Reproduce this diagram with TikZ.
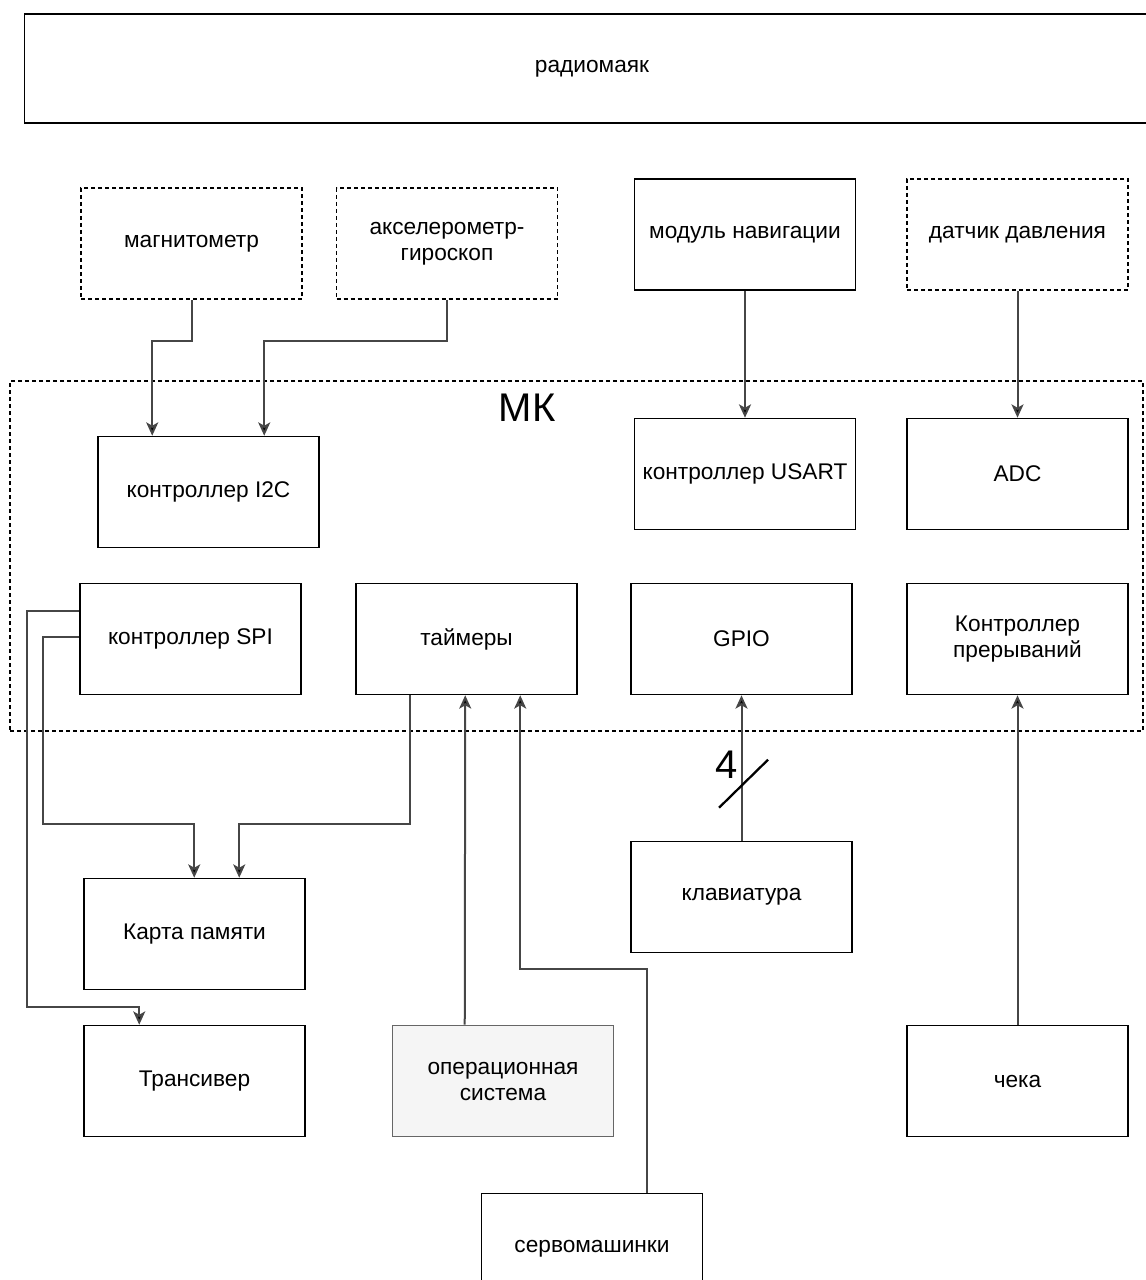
\documentclass[tikz,border=0pt]{standalone}
\usepackage{fontspec}
\setmainfont{Liberation Sans}
\usetikzlibrary{arrows.meta,calc}
\definecolor{linegray}{RGB}{70,70,70}
\definecolor{osfill}{RGB}{245,245,245}
\definecolor{osborder}{RGB}{102,102,102}
\begin{document}
\begin{tikzpicture}[x=0.75pt,y=-0.75pt,
  blk/.style={draw=black,line width=1.15pt,fill=white,minimum width=165.75pt,minimum height=83.25pt,
    inner sep=0pt,align=center,font=\fontsize{17}{19.5}\selectfont},
  optblk/.style={blk,dash pattern=on 3pt off 2.25pt},
  conn/.style={draw=linegray,line width=1.5pt,-{Stealth[length=10pt,width=9pt,inset=2.5pt,fill=black]}},
]
\useasboundingbox (0,0) rectangle (1145,1280);

% outer beacon
\node[blk,minimum width=851.25pt,minimum height=81.75pt] (beacon) at (592,68.5) {радиомаяк};

% external sensors
\node[optblk] (magn)  at (191.5,243.5) {магнитометр};
\node[optblk] (accel) at (447,243.5) {акселерометр-\\гироскоп};
\node[blk]    (nav)   at (745,234.5) {модуль навигации};
\node[optblk] (press) at (1017.5,234.5) {датчик давления};

% microcontroller boundary
\node[draw=black,line width=1.15pt,dash pattern=on 3pt off 2.25pt,minimum width=849.75pt,minimum height=262.5pt,inner sep=0pt] (mk) at (576.5,556) {};
\node[font=\fontsize{30}{34}\selectfont,inner sep=0pt] (mklabel) at (527,408) {МК};

% peripherals inside the MCU
\node[blk] (i2c)   at (208.5,492) {контроллер I2C};
\node[blk] (usart) at (745,474) {контроллер USART};
\node[blk] (adc)   at (1017.5,474) {ADC};
\node[blk] (spi)   at (190.5,639) {контроллер SPI};
\node[blk] (tim)   at (466.5,639) {таймеры};
\node[blk] (gpio)  at (741.5,639) {GPIO};
\node[blk] (irq)   at (1017.5,639) {Контроллер\\прерываний};

% external devices below
\node[blk] (card)  at (194.5,934) {Карта памяти};
\node[blk] (kbd)   at (741.5,897) {клавиатура};
\node[blk] (trx)   at (194.5,1081) {Трансивер};
\node[blk,fill=osfill,draw=osborder] (os) at (503,1081) {операционная\\система};
\node[blk] (pin)   at (1017.5,1081) {чека};
\node[blk] (servo) at (592,1249) {сервомашинки};

% sensor links
\draw[conn] (magn.south) -- ++(0,41) -| ($(i2c.north west)+(55,0)$);
\draw[conn] (accel.south) -- ++(0,41) -| ($(i2c.north west)+(167,0)$);
\draw[conn] (nav.south) -- (usart.north);
\draw[conn] (press.south) -- (adc.north);

% SPI bus
\draw[conn] ($(spi.north west)+(0,28)$) -| ($(trx.north west)+(-56,-18)$) -| ($(trx.north west)+(56,0)$);
\draw[conn] ($(spi.north west)+(0,54)$) -| ($(card.north west)+(-40,-54)$) -| ($(card.north west)+(111,0)$);

% timers
\draw[conn] ($(tim.south west)+(55,0)$) |- ($(card.north west)+(156,-54)$) -- ($(card.north west)+(156,0)$);
\draw[conn] ($(os.north west)+(73,0)$) -- ($(tim.south west)+(110,0)$);
\draw[conn] ($(servo.north west)+(166,0)$) -- ++(0,-224) -| ($(tim.south west)+(165,0)$);

% keyboard bus, 4 lines
\draw[conn] (kbd.north) -- (gpio.south);
\draw[line width=1.7pt,black] ($(kbd.north)+(-22.5,-33)$) coordinate (busa) -- ($(kbd.north)+(26.5,-81)$) coordinate (busb);
\node[font=\fontsize{30}{34}\selectfont,inner sep=0pt] (buswidth) at ($(kbd.north)+(-15,-76)$) {4};

% safety pin
\draw[conn] (pin.north) -- (irq.south);
\end{tikzpicture}
\end{document}
